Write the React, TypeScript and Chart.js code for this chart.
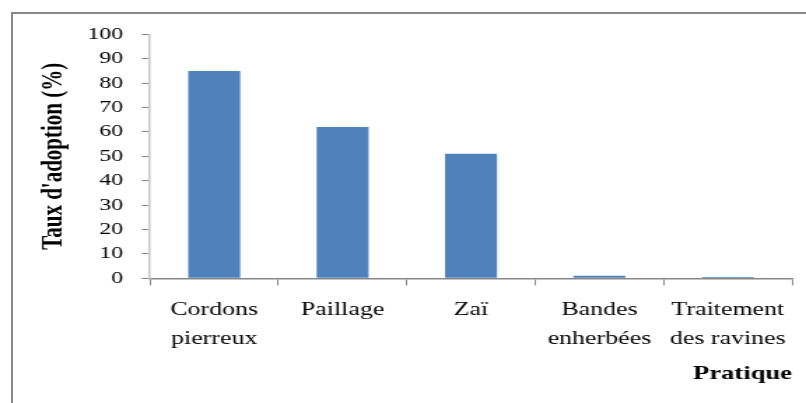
import React, { useEffect, useRef } from "react";
import { Chart, registerables } from "chart.js";

Chart.register(...registerables);

const categories: (string | string[])[] = [
  ["Cordons", "pierreux"],
  "Paillage",
  "Zaï",
  ["Bandes", "enherbées"],
  ["Traitement", "des ravines"],
];
const adoptionRates = [85, 62, 51, 1, 0.5];
const yTitle = "Taux d'adoption (%)";
const xTitle = "Pratique";

const PAGE_W = 806;
const PAGE_H = 403;
const INNER_W = 576;
const STRETCH = PAGE_W / INNER_W;
const FONT = "'Liberation Serif', 'Times New Roman', serif";

export default function App() {
  const ref = useRef<HTMLCanvasElement | null>(null);

  useEffect(() => {
    if (!ref.current) return;
    const chart = new Chart(ref.current, {
      type: "bar",
      data: {
        labels: categories,
        datasets: [
          {
            data: adoptionRates,
            backgroundColor: "#4F81BD",
            borderWidth: 0,
            barPercentage: 0.405,
            categoryPercentage: 1,
          },
        ],
      },
      options: {
        responsive: false,
        animation: false,
        devicePixelRatio: 1,
        layout: { padding: { left: 0, right: 10, top: 34.3, bottom: 0 } },
        plugins: {
          legend: { display: false },
          tooltip: { enabled: false },
        },
        scales: {
          x: {
            offset: true,
            grid: {
              offset: true,
              drawOnChartArea: false,
              drawTicks: true,
              tickLength: 7,
              color: "#878787",
              lineWidth: 1,
            },
            border: { display: true, color: "#878787", width: 1.5 },
            ticks: {
              color: "#000",
              padding: 10.6,
              maxRotation: 0,
              autoSkip: false,
              font: { family: FONT, size: 18.5, lineHeight: 1.55 },
            },
            title: {
              display: true,
              text: xTitle,
              align: "end",
              color: "#000",
              padding: { top: 0, bottom: 17.4 },
              font: { family: FONT, size: 19, weight: "bold", lineHeight: 1.2 },
            },
            afterFit: (scale: any) => {
              scale.height = PAGE_H - 278.3;
            },
          },
          y: {
            min: 0,
            max: 100,
            grid: {
              drawOnChartArea: false,
              drawTicks: true,
              tickLength: 6,
              color: "#878787",
              lineWidth: 1,
            },
            border: { display: true, color: "#c4c4c4", width: 1.5 },
            ticks: {
              stepSize: 10,
              color: "#000",
              padding: 13.3,
              font: { family: FONT, size: 17 },
            },
            title: {
              display: true,
              text: yTitle,
              color: "#000",
              padding: { top: 26, bottom: 0 },
              font: { family: FONT, size: 21, weight: "bold", lineHeight: 1.2 },
            },
            afterFit: (scale: any) => {
              scale.width = 107.2;
            },
          },
        },
      },
    } as any);
    return () => chart.destroy();
  }, []);

  return (
    <div
      style={{
        position: "fixed",
        left: 0,
        top: 0,
        width: PAGE_W,
        height: PAGE_H,
        overflow: "hidden",
        background: "#fff",
      }}
    >
      <div
        style={{
          position: "absolute",
          left: 10.5,
          top: 12,
          width: 900,
          height: 500,
          border: "2px solid #878787",
          boxSizing: "border-box",
        }}
      />
      <div
        style={{
          position: "absolute",
          left: 0,
          top: 0,
          width: INNER_W,
          height: PAGE_H,
          transform: `scaleX(${STRETCH})`,
          transformOrigin: "0 0",
        }}
      >
        <canvas ref={ref} width={INNER_W} height={PAGE_H} />
      </div>
    </div>
  );
}
